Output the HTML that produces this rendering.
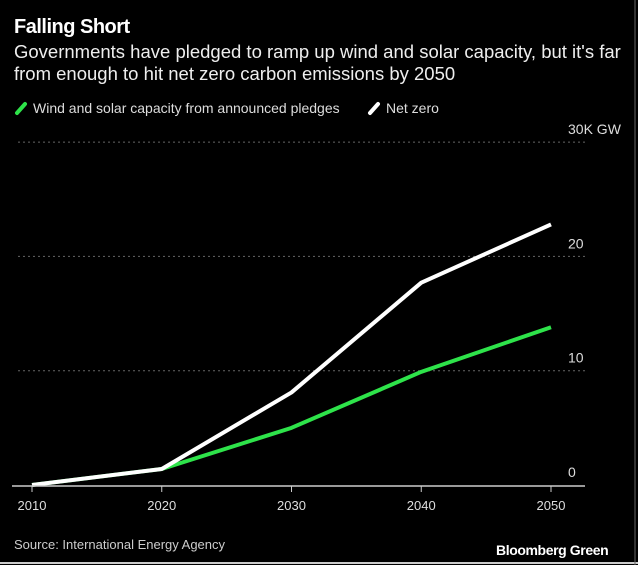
<!DOCTYPE html>
<html><head><meta charset="utf-8"><style>
body{margin:0;background:#000;}
#c{position:relative;width:638px;height:565px;background:#000;overflow:hidden;font-family:"Liberation Sans",sans-serif;color:#fff;}
.t{position:absolute;white-space:nowrap;}
</style></head><body>
<div id="c">
<div class="t" style="left:14px;top:16px;font-size:20px;font-weight:bold;letter-spacing:-0.5px">Falling Short</div>
<div class="t" style="left:14px;top:41px;font-size:18.5px;line-height:22px;color:#eee">Governments have pledged to ramp up wind and solar capacity, but it's far<br>from enough to hit net zero carbon emissions by 2050</div>
<svg width="638" height="565" style="position:absolute;left:0;top:0" id="svg">
<g>
<line x1="17" y1="113" x2="25" y2="104" stroke="#2ee34a" stroke-width="4" stroke-linecap="round"/>
<text x="33" y="113" fill="#ddd" font-size="14">Wind and solar capacity from announced pledges</text>
<line x1="370" y1="113" x2="378" y2="104" stroke="#fff" stroke-width="4" stroke-linecap="round"/>
<text x="386" y="113" fill="#ddd" font-size="14">Net zero</text>
</g>
<g id="grid"></g><g id="lines"></g><g id="xax"></g>
<line x1="0" y1="563" x2="638" y2="563" stroke="#ccc" stroke-width="2"/>
<line x1="635" y1="0" x2="635" y2="565" stroke="#666" stroke-width="1"/>
</svg>
<div class="t" style="left:14px;top:537px;font-size:13px;color:#ccc">Source: International Energy Agency</div>
<div class="t" style="left:496px;top:542px;font-size:14px;font-weight:bold;letter-spacing:-0.4px">Bloomberg Green</div>
</div>
<script>
const years=[2010,2020,2030,2040,2050];
const netZero=[0,1.4,8.1,17.7,22.8];
const pledges=[0,1.4,5.0,9.9,13.8];
const yTicks=[0,10,20,30];
const yTickLabels=["0","10","20","30K GW"];
const NS="http://www.w3.org/2000/svg";
const x=v=>32+(v-2010)*12.975;
const y=v=>485-v*11.43;
function mk(t,a,p){const e=document.createElementNS(NS,t);for(const k in a)e.setAttribute(k,a[k]);p.appendChild(e);return e;}
const grid=document.getElementById('grid');
yTicks.forEach((v,i)=>{
 if(v>0){const l=mk('line',{x1:18,x2:585,y1:y(v),y2:y(v),stroke:'#666','stroke-dasharray':'2,3','stroke-width':1},grid);
 
 }
 const t=mk('text',{x:568,y:y(v)-8,fill:'#ddd','font-size':14},grid);
 t.textContent=yTickLabels[i];
 
 
});
const lines=document.getElementById('lines');
const pts=a=>a.map((v,i)=>x(years[i])+','+y(v)).join(' ');
const g=mk('polyline',{points:pts(pledges),fill:'none',stroke:'#2ee34a','stroke-width':4,'stroke-linejoin':'round'},lines);


const w=mk('polyline',{points:pts(netZero),fill:'none',stroke:'#fff','stroke-width':4,'stroke-linejoin':'round'},lines);


const xax=document.getElementById('xax');
const ax=mk('line',{x1:12,x2:585,y1:486,y2:486,stroke:'#ccc','stroke-width':1.5},xax);


years.forEach(yr=>{
 const tk=mk('line',{x1:x(yr),x2:x(yr),y1:486,y2:492,stroke:'#ccc'},xax);
 
 
 const t=mk('text',{x:x(yr),y:510,fill:'#ddd','font-size':13,'text-anchor':'middle'},xax);
 t.textContent=yr;
 
 
});
</script>
</body></html>
